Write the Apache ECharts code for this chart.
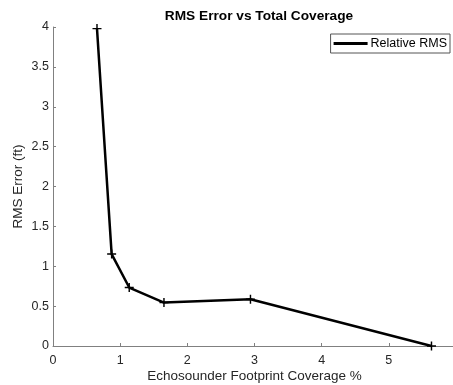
<!DOCTYPE html>
<html><head><meta charset="utf-8">
<script src="https://cdn.jsdelivr.net/npm/echarts@6/dist/echarts.min.js"></script>
<style>html,body{margin:0;padding:0;background:#fff}#c{width:453px;height:385px}</style>
</head><body><div id="c"></div>
<script>
const coverage = [0.655, 0.873, 1.135, 1.652, 2.94, 5.635];
const rmsError = [3.98, 1.153, 0.733, 0.545, 0.587, 0.0];
const seriesName = 'Relative RMS';
const xTicks = [0, 1, 2, 3, 4, 5, 6];
const yTicks = [0, 0.5, 1, 1.5, 2, 2.5, 3, 3.5, 4];

const chart = echarts.init(document.getElementById('c'));
const font = 'Liberation Sans, Arial, sans-serif';
const plus = 'path://M4.2,0 H5.8 V4.2 H10 V5.8 H5.8 V10 H4.2 V5.8 H0 V4.2 H4.2 Z';
chart.setOption({
  animation: false,
  title: {
    text: 'RMS Error vs Total Coverage', left: 254, top: 4, textAlign: 'center',
    textStyle: { fontFamily: font, fontWeight: 'bold', fontSize: 13.7, color: '#000' }
  },
  legend: {
    right: 3, top: 34, orient: 'vertical',
    data: [{ name: seriesName, icon: 'rect' }],
    itemWidth: 34, itemHeight: 3, itemGap: 0,
    borderColor: '#555', borderWidth: 1, borderRadius: 0,
    padding: [3, 3, 3, 3],
    textStyle: { fontFamily: font, fontSize: 12.5, color: '#000', padding: [0, 0, 0, -2] }
  },
  grid: { left: 53, right: -3, top: 27, bottom: 39, containLabel: false, outerBoundsMode: 'none' },
  xAxis: {
    type: 'value', min: xTicks[0], max: xTicks[xTicks.length - 1], interval: 1,
    name: 'Echosounder Footprint Coverage %', nameLocation: 'middle', nameGap: 23,
    nameMoveOverlap: false,
    nameTextStyle: { fontFamily: font, fontSize: 13.5, color: '#262626' },
    axisLine: { lineStyle: { color: '#808080', width: 1 } },
    axisTick: { inside: true, length: 3, lineStyle: { color: '#808080' } },
    axisLabel: { fontFamily: font, fontSize: 12.5, color: '#262626', margin: 8 },
    splitLine: { show: false }
  },
  yAxis: {
    type: 'value', min: yTicks[0], max: yTicks[yTicks.length - 1], interval: 0.5,
    name: 'RMS Error (ft)', nameLocation: 'middle', nameGap: 28, nameRotate: 90,
    nameMoveOverlap: false,
    nameTextStyle: { fontFamily: font, fontSize: 13.5, color: '#262626' },
    axisLine: { show: true, lineStyle: { color: '#808080', width: 1 } },
    axisTick: { show: true, inside: true, length: 3, lineStyle: { color: '#808080' } },
    axisLabel: { fontFamily: font, fontSize: 12.5, color: '#262626', margin: 4 },
    splitLine: { show: false }
  },
  series: [{
    name: seriesName, type: 'line',
    data: coverage.map((x, i) => [x, rmsError[i]]),
    symbol: plus, symbolSize: 9, showAllSymbol: true,
    lineStyle: { color: '#000', width: 2.5 },
    itemStyle: { color: '#000' },
    clip: false
  }]
});
</script></body></html>
